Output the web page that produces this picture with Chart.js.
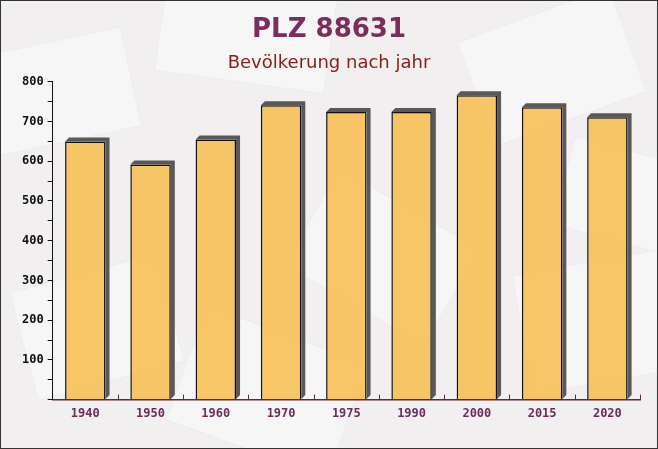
<!DOCTYPE html>
<html>
<head>
<meta charset="utf-8">
<script src="https://cdn.jsdelivr.net/npm/chart.js@4/dist/chart.umd.min.js"></script>
<style>
    html, body { margin: 0; padding: 0; }
    #wrap {
        position: relative;
        width: 656px;
        height: 447px;
        border: 1px solid #333;
        background: #f1eff0;
        overflow: hidden;
    }
    .env {
        position: absolute;
        background: rgba(255, 255, 255, 0.45);
        border: 1px solid rgba(230, 225, 228, 0.5);
    }
    canvas { position: absolute; left: 0; top: 0; }
</style>
</head>
<body>
<div id="wrap">
    <div class="env" style="left:-20px;top:40px;width:150px;height:100px;transform:rotate(-12deg)"></div>
    <div class="env" style="left:160px;top:-30px;width:170px;height:110px;transform:rotate(8deg)"></div>
    <div class="env" style="left:470px;top:10px;width:160px;height:110px;transform:rotate(-20deg)"></div>
    <div class="env" style="left:20px;top:270px;width:150px;height:110px;transform:rotate(-15deg)"></div>
    <div class="env" style="left:180px;top:330px;width:170px;height:120px;transform:rotate(20deg)"></div>
    <div class="env" style="left:300px;top:200px;width:160px;height:110px;transform:rotate(30deg)"></div>
    <div class="env" style="left:520px;top:260px;width:150px;height:120px;transform:rotate(-10deg)"></div>
    <div class="env" style="left:560px;top:150px;width:130px;height:90px;transform:rotate(15deg)"></div>
    <canvas id="myChart" width="656" height="447"></canvas>
</div>
<script>
// werte
var jahre = ['1940', '1950', '1960', '1970', '1975', '1990', '2000', '2015', '2020'];
var einwohner = [650, 592, 655, 741, 724, 724, 766, 736, 711];
var yTicks = [0, 100, 200, 300, 400, 500, 600, 700, 800];

// 3D-Schatten oben und rechts am Balken
const balkenSchatten = {
    id: 'balkenSchatten',
    beforeDatasetsDraw(chart) {
        const ctx = chart.ctx;
        const meta = chart.getDatasetMeta(0);
        const d = 4;
        ctx.save();
        ctx.fillStyle = '#5c5858';
        meta.data.forEach(function(bar) {
            const x0 = bar.x - bar.width / 2;
            const x1 = bar.x + bar.width / 2;
            const top = bar.y;
            const base = bar.base;
            ctx.beginPath();
            ctx.moveTo(x0, top);
            ctx.lineTo(x0 + d, top - d);
            ctx.lineTo(x1 + d, top - d);
            ctx.lineTo(x1 + d, base - d);
            ctx.lineTo(x1, base);
            ctx.lineTo(x1, top);
            ctx.closePath();
            ctx.fill();
        });
        ctx.restore();
    }
};

// kleine Striche nach oben an den Kategoriegrenzen
const xStriche = {
    id: 'xStriche',
    afterDraw(chart) {
        const ctx = chart.ctx;
        const x = chart.scales.x;
        const n = jahre.length;
        const breite = (x.right - x.left) / n;
        ctx.save();
        ctx.strokeStyle = '#5a2a4a';
        ctx.lineWidth = 1;
        for (let i = 1; i <= n; i++) {
            const px = Math.round(x.left + i * breite) + 0.5;
            ctx.beginPath();
            ctx.moveTo(px, x.top);
            ctx.lineTo(px, x.top - 5);
            ctx.stroke();
        }
        ctx.restore();
    }
};

const ctx = document.getElementById('myChart');

new Chart(ctx, {
    type: 'bar',
    data: {
        labels: jahre,
        datasets: [{
            label: 'Bevölkerung',
            data: einwohner,
            backgroundColor: 'rgba(248, 188, 78, 0.85)',
            borderColor: '#111',
            borderWidth: 1.5,
            categoryPercentage: 0.62,
            barPercentage: 1
        }]
    },
    options: {
        responsive: false,
        animation: false,
        layout: {
            padding: { left: 17, right: 17, top: 6, bottom: 28 }
        },
        plugins: {
            legend: { display: false },
            tooltip: { enabled: false },
            title: {
                display: true,
                text: 'PLZ 88631',
                color: '#7b2d5e',
                font: { family: 'DejaVu Sans', size: 26, weight: 'bold' },
                padding: { top: 8, bottom: 2 }
            },
            subtitle: {
                display: true,
                text: 'Bevölkerung nach jahr',
                color: '#8b1a1a',
                font: { family: 'DejaVu Sans', size: 18 },
                padding: { top: 4, bottom: 8 }
            }
        },
        scales: {
            x: {
                offset: true,
                border: { display: true, color: '#5a2a4a', width: 1.5 },
                grid: { display: false },
                ticks: {
                    color: '#6b2d5b',
                    padding: -1,
                    font: { family: 'DejaVu Sans Mono', size: 12, weight: 'bold' }
                }
            },
            y: {
                min: 0,
                max: 800,
                border: { display: true, color: '#111', width: 1 },
                grid: {
                    drawOnChartArea: false,
                    tickLength: 5,
                    color: '#111'
                },
                ticks: {
                    stepSize: 50,
                    color: '#111',
                    padding: 4,
                    font: { family: 'DejaVu Sans Mono', size: 12, weight: 'bold' },
                    callback: function(value) {
                        return (yTicks.includes(value) && value > 0) ? value : '';
                    }
                }
            }
        }
    },
    plugins: [balkenSchatten, xStriche]
});
</script>
</body>
</html>
